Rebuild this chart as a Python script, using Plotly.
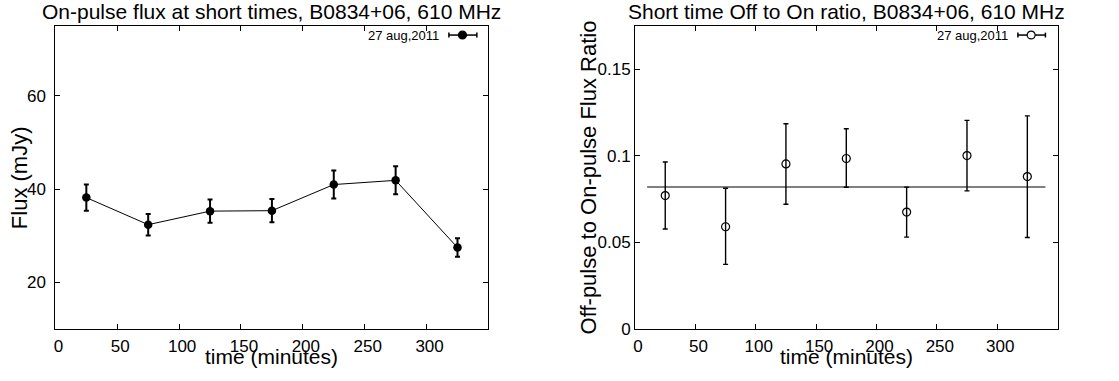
import plotly.graph_objects as go

# ---------------- data ----------------
time_min = [25, 75, 125, 175, 225, 275, 325]

flux_mjy = [38.2, 32.4, 35.3, 35.4, 41.0, 41.9, 27.5]
flux_err = [2.8, 2.3, 2.5, 2.5, 3.0, 3.0, 2.0]

ratio = [0.0771, 0.0591, 0.0954, 0.0985, 0.0676, 0.1002, 0.0881]
ratio_err_plus = [0.0194, 0.0222, 0.0232, 0.0172, 0.0144, 0.0203, 0.0350]
ratio_err_minus = [0.0193, 0.0217, 0.0233, 0.0166, 0.0145, 0.0204, 0.0352]

mean_x = [10, 340]
mean_ratio = [0.082, 0.082]

x_ticks = [0, 50, 100, 150, 200, 250, 300]
flux_ticks = [20, 40, 60]
ratio_ticks = [0, 0.05, 0.1, 0.15]
ratio_ticklabels = ["0", "0.05", "0.1", "0.15"]

legend_label = "27 aug,2011"
title_left = "On-pulse flux at short times, B0834+06, 610 MHz"
title_right = "Short time Off to On ratio, B0834+06, 610 MHz"

# ---------------- layout helpers ----------------
W, H = 1119, 381
FONT = "Liberation Sans, Arial, Helvetica, sans-serif"

def px_x(p):
    return p / W

def px_y(p):
    return 1 - p / H

L_dom = [px_x(53.5), px_x(487.3)]
R_dom = [px_x(634.2), px_x(1057.4)]
Y_dom = [px_y(338), px_y(26.7)]

fig = go.Figure()

# left panel
fig.add_trace(go.Scatter(
    x=time_min, y=flux_mjy, mode="lines+markers",
    line=dict(color="black", width=1),
    marker=dict(color="black", size=8.5, symbol="circle"),
    error_y=dict(type="data", array=flux_err, visible=True,
                 color="black", thickness=2, width=2.5),
    xaxis="x", yaxis="y", showlegend=False,
))

# right panel
fig.add_trace(go.Scatter(
    x=mean_x, y=mean_ratio, mode="lines",
    line=dict(color="#808080", width=2),
    xaxis="x2", yaxis="y2", showlegend=False, hoverinfo="skip",
))
fig.add_trace(go.Scatter(
    x=time_min, y=ratio, mode="markers",
    marker=dict(color="black", size=8, symbol="circle-open",
                line=dict(color="black", width=1.2)),
    error_y=dict(type="data", symmetric=False, array=ratio_err_plus,
                 arrayminus=ratio_err_minus, visible=True,
                 color="black", thickness=1.4, width=2.5),
    xaxis="x2", yaxis="y2", showlegend=False,
))

axis_common = dict(
    showline=True, linecolor="black", linewidth=1, mirror="ticks",
    ticks="inside", ticklen=5, tickcolor="black", tickwidth=1,
    showgrid=False, zeroline=False,
    tickfont=dict(family=FONT, size=17, color="black"),
)

fig.update_layout(
    width=W, height=H,
    margin=dict(l=0, r=0, t=0, b=0),
    paper_bgcolor="white", plot_bgcolor="white",
    showlegend=False,
    xaxis=dict(domain=L_dom, range=[0, 350], tickvals=x_ticks,
               anchor="y", ticklabelshift=3, ticklabelstandoff=1,
               **axis_common),
    yaxis=dict(domain=Y_dom, range=[10, 75], tickvals=flux_ticks,
               anchor="x", ticklabelstandoff=5, **axis_common),
    xaxis2=dict(domain=R_dom, range=[0, 350], tickvals=x_ticks,
                anchor="y2", ticklabelshift=3, ticklabelstandoff=1,
                **axis_common),
    yaxis2=dict(domain=Y_dom, range=[0, 0.175], tickvals=ratio_ticks,
                ticktext=ratio_ticklabels, anchor="x2",
                ticklabelstandoff=0, **axis_common),
)

annots = []
# titles
annots.append(dict(text=title_left, x=(L_dom[0] + L_dom[1]) / 2, y=px_y(11.5),
                   xref="paper", yref="paper", showarrow=False,
                   font=dict(family=FONT, size=21, color="black"),
                   xanchor="center", yanchor="middle"))
annots.append(dict(text=title_right, x=(R_dom[0] + R_dom[1]) / 2, y=px_y(11.5),
                   xref="paper", yref="paper", showarrow=False,
                   font=dict(family=FONT, size=21, color="black"),
                   xanchor="center", yanchor="middle"))
# axis titles
for xc in [(L_dom[0] + L_dom[1]) / 2, (R_dom[0] + R_dom[1]) / 2]:
    annots.append(dict(text="time (minutes)", x=xc, y=px_y(366),
                       xref="paper", yref="paper", showarrow=False,
                       font=dict(family=FONT, size=21, color="black"),
                       xanchor="center", yanchor="middle"))
annots.append(dict(text="Flux (mJy)", x=px_x(17.5), y=px_y(182.5),
                   xref="paper", yref="paper", showarrow=False, textangle=-90,
                   font=dict(family=FONT, size=22, color="black"),
                   xanchor="center", yanchor="middle"))
annots.append(dict(text="Off-pulse to On-pulse Flux Ratio", x=px_x(587.5),
                   y=px_y(181.7), xref="paper", yref="paper", showarrow=False,
                   textangle=-90,
                   font=dict(family=FONT, size=22, color="black"),
                   xanchor="center", yanchor="middle"))

# legends (text + key)
shapes = []
def legend(text_right, key_l, key_r, mk, yc, filled):
    annots.append(dict(text=legend_label, x=px_x(text_right), y=px_y(yc),
                       xref="paper", yref="paper", showarrow=False,
                       font=dict(family=FONT, size=13, color="black"),
                       xanchor="right", yanchor="middle"))
    shapes.append(dict(type="line", xref="paper", yref="paper",
                       x0=px_x(key_l), x1=px_x(key_r), y0=px_y(yc), y1=px_y(yc),
                       line=dict(color="black", width=1.5)))
    for xe in (key_l, key_r):
        shapes.append(dict(type="line", xref="paper", yref="paper",
                           x0=px_x(xe), x1=px_x(xe), y0=px_y(yc - 2.5),
                           y1=px_y(yc + 2.5), line=dict(color="black", width=1.5)))
    r = 4.0
    shapes.append(dict(type="circle", xref="paper", yref="paper",
                       x0=px_x(mk - r), x1=px_x(mk + r),
                       y0=px_y(yc + r), y1=px_y(yc - r),
                       fillcolor="black" if filled else "white",
                       line=dict(color="black", width=1.2)))

legend(439.3, 447.7, 475.7, 461.3, 36, True)
legend(1010, 1017.7, 1045.3, 1031, 36, False)

fig.update_layout(annotations=annots, shapes=shapes)

fig.write_html("out.html")
